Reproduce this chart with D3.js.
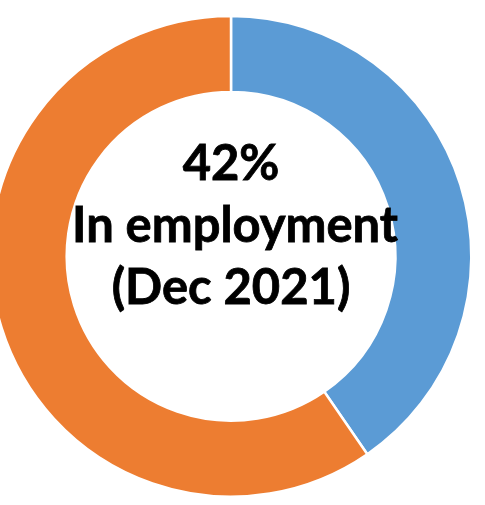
<!DOCTYPE html>
<html>
<head>
<meta charset="utf-8">
<script src="https://cdn.jsdelivr.net/npm/d3@7"></script>
<style>
  body { margin: 0; background: #fff; }
  svg { display: block; }
</style>
</head>
<body>
<svg class="my_svg"></svg>
<script>
// data (slice geometry), label text as shown
var categories = ["In employment", "Not in employment"];
var values = [40.4, 59.6];
var centerLines = ["42%", "In employment", "(Dec 2021)"];

var width = 485, height = 505;
var cx = 231, cy = 256.3;
var outerR = 240.3, innerR = 164.3;

var colors = {"In employment": "#5B9BD5", "Not in employment": "#ED7D31"};

var svg = d3.select(".my_svg").attr("width", width).attr("height", height);
var g = svg.append("g").attr("transform", `translate(${cx}, ${cy})`);

var pieGen = d3.pie().sort(null).value(d => d.value);
var arcGen = d3.arc().innerRadius(innerR).outerRadius(outerR);

var pieData = pieGen(categories.map((c, i) => ({key: c, value: values[i]})));

g.selectAll(".slice").data(pieData).join("path")
  .attr("class", "slice")
  .attr("d", arcGen)
  .attr("fill", d => colors[d.data.key])
  .attr("stroke", "#fff")
  .attr("stroke-width", 2.5)
  .attr("stroke-linejoin", "miter");

//center label
var baselines = [-76.3, -14.3, 47.7];
var xOffsets = [0, 4, 0];
var txt = g.selectAll(".center_text").data(centerLines).join("text")
  .attr("class", "center_text")
  .attr("x", (d, i) => xOffsets[i])
  .attr("y", (d, i) => baselines[i])
  .attr("text-anchor", "middle")
  .attr("font-family", "Lato, 'Open Sans', sans-serif")
  .attr("font-weight", "bold")
  .attr("font-size", "50px")
  .attr("fill", "#000")
  .attr("stroke", "#000")
  .attr("stroke-width", 0.8)
  .text(d => d);

// scale font so the middle line spans the same width as in the picture
var w = txt.filter((d, i) => i === 1).node().getComputedTextLength();
txt.attr("font-size", (50 * 326 / w) + "px");
</script>
</body>
</html>
